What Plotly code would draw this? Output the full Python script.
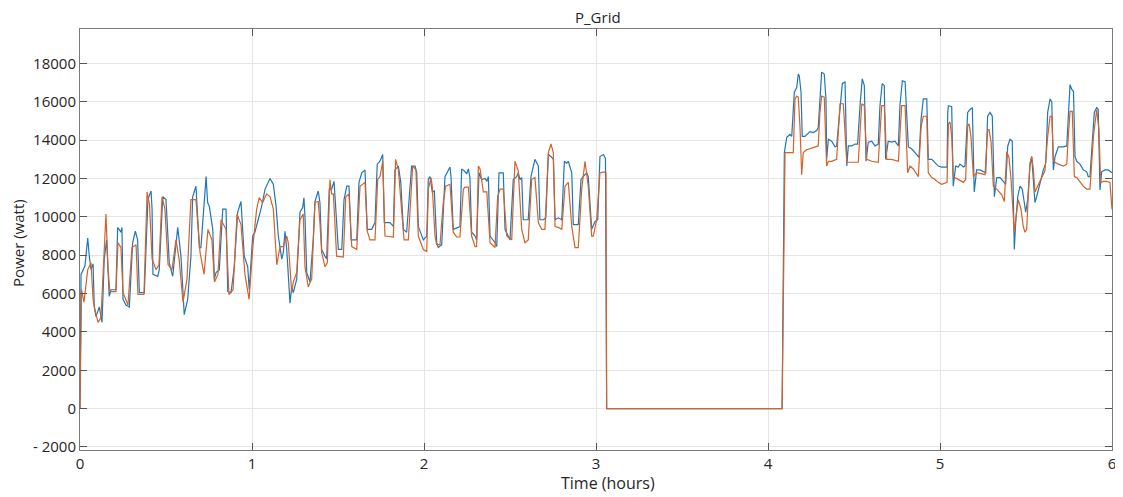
import plotly.graph_objects as go

# ---------------- data ----------------
blue_t = [
    0, 0.006, 0.029, 0.045, 0.054, 0.064, 0.076, 0.083, 0.093, 0.112,
    0.128, 0.141, 0.155, 0.170, 0.180, 0.209, 0.219, 0.238, 0.244, 0.250,
    0.267, 0.287, 0.306, 0.322, 0.335, 0.345, 0.374, 0.395, 0.413, 0.419,
    0.424, 0.452, 0.461, 0.481, 0.500, 0.519, 0.539, 0.548, 0.568, 0.587,
    0.606, 0.626, 0.645, 0.655, 0.674, 0.694, 0.703, 0.733, 0.742, 0.752,
    0.772, 0.781, 0.791, 0.810, 0.830, 0.849, 0.859, 0.878, 0.897, 0.917,
    0.936, 0.955, 0.975, 0.984, 1.004,
    1.017, 1.037, 1.056, 1.076, 1.105, 1.124, 1.140, 1.153, 1.173, 1.182,
    1.192, 1.202, 1.211, 1.221, 1.231, 1.240, 1.260, 1.279, 1.295, 1.302,
    1.308, 1.318, 1.337, 1.356, 1.366, 1.385, 1.395, 1.405, 1.424, 1.434,
    1.449, 1.463, 1.477, 1.488, 1.502, 1.522, 1.535, 1.551, 1.564, 1.576,
    1.589, 1.609, 1.622, 1.638, 1.657, 1.670, 1.696, 1.715, 1.728, 1.744,
    1.760, 1.769, 1.802, 1.822, 1.831, 1.851, 1.865, 1.880, 1.899, 1.928,
    1.948, 1.958, 1.967, 1.996, 2.016,
    2.025, 2.035, 2.048, 2.060, 2.074, 2.083, 2.103, 2.122, 2.141, 2.151,
    2.157, 2.170, 2.199, 2.209, 2.219, 2.234, 2.248, 2.258, 2.267, 2.277,
    2.297, 2.306, 2.320, 2.335, 2.355, 2.365, 2.374, 2.384, 2.413, 2.423,
    2.436, 2.461, 2.471, 2.500, 2.519, 2.539, 2.548, 2.558, 2.568, 2.577,
    2.606, 2.622, 2.645, 2.665, 2.674, 2.694, 2.708, 2.723, 2.738, 2.752,
    2.762, 2.781, 2.801, 2.816, 2.830, 2.839, 2.859, 2.868, 2.897, 2.913,
    2.926, 2.946, 2.955, 2.975, 2.994, 3.010, 3.023, 3.043, 3.055, 3.062,
    4.080, 4.082,
    4.095, 4.109, 4.128, 4.138, 4.153, 4.167, 4.176, 4.182, 4.192, 4.199,
    4.215, 4.234, 4.244, 4.263, 4.283, 4.292, 4.302, 4.312, 4.327, 4.337,
    4.341, 4.351, 4.370, 4.390, 4.399, 4.419, 4.432, 4.448, 4.458, 4.467,
    4.487, 4.506, 4.521, 4.535, 4.548, 4.560, 4.570, 4.583, 4.603, 4.622,
    4.641, 4.651, 4.664, 4.676, 4.684, 4.699, 4.719, 4.738, 4.758, 4.767,
    4.781, 4.797, 4.806, 4.816, 4.835, 4.864, 4.878, 4.890, 4.903, 4.923,
    4.932, 4.952, 4.971, 4.990, 5.010, 5.029,
    5.041, 5.045, 5.049, 5.068, 5.077, 5.091, 5.106, 5.116, 5.136, 5.145,
    5.161, 5.174, 5.188, 5.199, 5.213, 5.233, 5.252, 5.266, 5.277, 5.291,
    5.304, 5.316, 5.330, 5.349, 5.368, 5.382, 5.394, 5.407, 5.420, 5.428,
    5.432, 5.440, 5.452, 5.465, 5.478, 5.490, 5.498, 5.510, 5.523, 5.533,
    5.545, 5.552, 5.562, 5.581, 5.601, 5.615, 5.626, 5.640, 5.650, 5.659,
    5.669, 5.688, 5.717, 5.737, 5.746, 5.756, 5.766, 5.776, 5.785, 5.795,
    5.814, 5.833, 5.853, 5.862, 5.872, 5.882, 5.897, 5.911, 5.920, 5.930,
    5.940, 5.959, 5.978, 6.000,
]
blue_w = [
    0, 7000, 7450, 8900, 7950, 7250, 7550, 5300, 4800, 5300,
    4500, 7800, 8800, 5850, 6200, 6200, 9450, 9200, 9450, 5700,
    5400, 5300, 8650, 9250, 8800, 6050, 6050, 10900, 11350, 10400,
    7000, 6900, 7250, 11050, 10900, 7600, 6900, 7800, 9450, 7950,
    4900, 5700, 7950, 11050, 11600, 8400, 8400, 12100, 10750, 10550,
    9350, 6750, 7100, 7250, 10400, 10400, 6100, 6050, 7400, 10250,
    10800, 7950, 7400, 6200, 9000,
    9200, 9850, 10550, 11450, 12000, 11700, 10550, 9000, 7800, 8150,
    9250, 8300, 6900, 5500, 6350, 6050, 6750, 10250, 10500, 11000,
    10000, 7100, 6600, 8800, 10800, 11350, 10750, 8300, 7950, 7800,
    11450, 11450, 11850, 10000, 8300, 8300, 10900, 11600, 11600, 8800,
    8800, 8800, 11800, 12300, 12450, 9350, 9350, 9700, 12750, 12900,
    13250, 9700, 9700, 9500, 12450, 12650, 11800, 9350, 9200, 12650,
    12650, 12300, 9500, 8800, 9000,
    11950, 12100, 11300, 11350, 8650, 8400, 8550, 12100, 12400, 12600,
    12100, 9350, 9450, 9500, 12500, 12400, 12250, 12500, 12050, 9200,
    9000, 8800, 12300, 11950, 12000, 11850, 12100, 9000, 8650, 8450,
    12300, 12300, 9350, 8800, 11950, 12100, 12300, 11950, 12050, 9850,
    9850, 12100, 13000, 12650, 9850, 9850, 9950, 13250, 13150, 13000,
    9850, 9950, 9850, 12900, 12800, 12900, 12300, 9600, 9600, 11950,
    12100, 12300, 12100, 9350, 9750, 9850, 13150, 13250, 13050, 0,
    0, 0,
    13350, 14150, 14300, 14200, 16500, 16750, 17450, 17350, 16500, 14200,
    14200, 14400, 14450, 14400, 14500, 14650, 16500, 17550, 17450, 16150,
    13000, 14050, 13950, 13650, 13700, 15800, 16950, 17050, 12650, 13700,
    13700, 13800, 13800, 15800, 17200, 16850, 12900, 13900, 13950, 13700,
    13800, 15800, 16950, 16850, 13000, 13950, 13900, 13950, 13700, 15800,
    17100, 17050, 15100, 13650, 13550, 13250, 13100, 15100, 16150, 16150,
    13000, 13000, 12800, 12650, 12600, 12600,
    12600, 15450, 15800, 15750, 11600, 12650, 12600, 12750, 12600, 12650,
    15450, 15600, 15700, 11300, 12450, 12450, 12350, 12300, 15250, 15450,
    15250, 11050, 12050, 12050, 11850, 11700, 13700, 14050, 13950, 9850,
    8300, 9700, 11050, 11600, 11450, 10750, 10250, 10900, 12650, 13150,
    11600, 10750, 11050, 11800, 12450, 12800, 15450, 16150, 16000, 12450,
    13150, 13650, 13650, 13700, 15600, 16900, 16650, 16550, 13150, 12900,
    12750, 12450, 12350, 12100, 12100, 13350, 15450, 15700, 15600, 11400,
    12350, 12450, 12450, 12300,
]

orange_t = [
    0, 0.009, 0.023, 0.045, 0.064, 0.076, 0.087, 0.105, 0.122, 0.141,
    0.151, 0.163, 0.174, 0.209, 0.221, 0.238, 0.250, 0.279, 0.302, 0.326,
    0.337, 0.372, 0.390, 0.404, 0.419, 0.442, 0.459, 0.477, 0.494, 0.512,
    0.535, 0.558, 0.576, 0.599, 0.622, 0.645, 0.674, 0.698, 0.721, 0.744,
    0.767, 0.782, 0.802, 0.820, 0.849, 0.866, 0.890, 0.913, 0.936, 0.959,
    0.983, 1.006,
    1.027, 1.042, 1.062, 1.085, 1.105, 1.124, 1.134, 1.144, 1.163, 1.182,
    1.202, 1.211, 1.231, 1.240, 1.260, 1.279, 1.298, 1.308, 1.327, 1.347,
    1.366, 1.385, 1.395, 1.405, 1.424, 1.438, 1.453, 1.463, 1.473, 1.492,
    1.531, 1.545, 1.564, 1.580, 1.609, 1.628, 1.657, 1.670, 1.686, 1.715,
    1.731, 1.744, 1.760, 1.773, 1.822, 1.835, 1.851, 1.870, 1.884, 1.909,
    1.934, 1.953, 1.967, 1.996, 2.016,
    2.025, 2.041, 2.048, 2.064, 2.074, 2.093, 2.112, 2.126, 2.151, 2.170,
    2.190, 2.209, 2.229, 2.238, 2.258, 2.277, 2.297, 2.306, 2.316, 2.326,
    2.345, 2.365, 2.384, 2.413, 2.428, 2.442, 2.461, 2.481, 2.510, 2.529,
    2.548, 2.568, 2.587, 2.606, 2.626, 2.645, 2.665, 2.684, 2.703, 2.723,
    2.738, 2.752, 2.762, 2.781, 2.801, 2.820, 2.839, 2.859, 2.878, 2.897,
    2.917, 2.936, 2.955, 2.975, 2.984, 3.004, 3.023, 3.052, 3.058, 3.062,
    4.080, 4.082,
    4.099, 4.128, 4.147, 4.157, 4.167, 4.176, 4.186, 4.196, 4.205, 4.225,
    4.254, 4.292, 4.302, 4.312, 4.327, 4.341, 4.351, 4.370, 4.399, 4.419,
    4.438, 4.458, 4.487, 4.525, 4.545, 4.560, 4.574, 4.603, 4.641, 4.661,
    4.676, 4.690, 4.719, 4.758, 4.777, 4.797, 4.812, 4.826, 4.845, 4.874,
    4.890, 4.903, 4.923, 4.932, 4.952, 4.971, 4.990, 5.010, 5.041, 5.049,
    5.058, 5.068, 5.077, 5.087, 5.106, 5.136, 5.149, 5.161, 5.169, 5.180,
    5.194, 5.213, 5.262, 5.277, 5.285, 5.297, 5.310, 5.330, 5.359, 5.374,
    5.388, 5.401, 5.413, 5.426, 5.432, 5.440, 5.455, 5.471, 5.484, 5.494,
    5.504, 5.513, 5.523, 5.533, 5.543, 5.552, 5.572, 5.591, 5.610, 5.626,
    5.640, 5.650, 5.659, 5.669, 5.688, 5.717, 5.737, 5.746, 5.756, 5.769,
    5.781, 5.795, 5.814, 5.833, 5.853, 5.872, 5.892, 5.911, 5.924, 5.934,
    5.950, 5.969, 5.988, 6.000,
]
orange_w = [
    0, 6200, 5550, 7250, 7600, 5700, 5150, 4500, 4750, 8300,
    10150, 7250, 6100, 6100, 8650, 8400, 6050, 5400, 8400, 8550,
    5950, 5950, 11300, 10650, 7800, 7250, 7500, 11050, 10400, 7500,
    7250, 8800, 7800, 5550, 6750, 10900, 10900, 8150, 7000, 9350,
    8800, 6600, 7000, 9850, 9350, 5950, 6200, 10150, 9600, 7000,
    5700, 8550,
    10400, 11000, 10750, 11200, 11050, 10400, 8800, 7500, 8450, 8450,
    9000, 8650, 6050, 6600, 7100, 9850, 10150, 7400, 6350, 6750,
    10750, 10800, 9700, 8150, 7400, 7600, 11950, 11200, 11200, 7950,
    7900, 11050, 11200, 8450, 8300, 11600, 11800, 9250, 8800, 8800,
    11950, 12100, 12900, 9000, 8950, 13000, 12450, 10550, 8800, 8800,
    12650, 12450, 9000, 8300, 8200,
    11450, 12050, 11600, 9000, 8550, 8550, 10750, 11600, 11700, 9200,
    8950, 8950, 11450, 11550, 11550, 9000, 8450, 8450, 12650, 12500,
    11300, 11300, 8650, 8400, 11050, 11450, 11450, 9000, 8800, 12900,
    12400, 9350, 8650, 8800, 11950, 12050, 9700, 9350, 9350, 13350,
    13800, 13350, 9500, 9450, 9350, 11600, 11800, 9500, 8400, 8400,
    11450, 12900, 11600, 9000, 9000, 9850, 12300, 12350, 12300, 0,
    0, 0,
    13350, 13350, 13350, 16150, 16300, 16250, 14700, 12200, 13350, 13500,
    13600, 13700, 15450, 16300, 16250, 12650, 12900, 12900, 13000, 15900,
    15900, 12850, 12850, 12850, 15900, 15800, 13000, 12900, 12850, 15800,
    15800, 13000, 13000, 12900, 15800, 15800, 12300, 12650, 12500, 12100,
    14700, 15250, 15250, 12300, 12050, 11950, 11800, 11700, 11800, 14850,
    14950, 14200, 12100, 12050, 11950, 11800, 11950, 14750, 14850, 14200,
    12100, 12300, 12200, 14550, 14550, 13900, 11600, 11450, 11150, 10800,
    13400, 13100, 11950, 10250, 9200, 9850, 10900, 10400, 9500, 9200,
    9350, 11050, 12800, 13150, 12450, 11300, 11700, 12100, 12400, 14200,
    15250, 15250, 13000, 12850, 12750, 12650, 12750, 14200, 15500, 15500,
    12100, 12050, 11800, 11600, 11450, 11450, 14200, 15600, 14550, 11800,
    11850, 11850, 11800, 10400,
]

x_ticks = [0, 1, 2, 3, 4, 5, 6]
y_ticks = [-2000, 0, 2000, 4000, 6000, 8000, 10000, 12000, 14000, 16000, 18000]
y_tick_text = ["- 2000", "0", "2000", "4000", "6000", "8000", "10000",
               "12000", "14000", "16000", "18000"]

FONT = "Open Sans"
TXT = "#262626"

# ---------------- figure ----------------
fig = go.Figure()
fig.add_trace(go.Scatter(x=blue_t, y=blue_w, mode="lines",
                         line=dict(color="#1f77b8", width=1.2), showlegend=False))
fig.add_trace(go.Scatter(x=orange_t, y=orange_w, mode="lines",
                         line=dict(color="#d4622a", width=1.2), showlegend=False))

axis_common = dict(
    showline=True, linecolor="#7a7a7a", linewidth=1, mirror="allticks",
    ticks="inside", ticklen=7, tickcolor="#555555", tickwidth=1,
    showgrid=True, gridcolor="#e6e6e6", gridwidth=1, zeroline=False,
    automargin=False,
    tickfont=dict(family=FONT, size=15, color=TXT),
)

# the page body adds an 8px offset, so the figure is sized to end at the window edge
fig.update_layout(
    width=1115, height=489,
    margin=dict(l=72, r=11, t=21, b=47),
    paper_bgcolor="white", plot_bgcolor="white",
    xaxis=dict(range=[0, 6], tickvals=x_ticks, **axis_common),
    yaxis=dict(range=[-2160, 19800], tickvals=y_ticks, ticktext=y_tick_text,
               **axis_common),
    annotations=[
        dict(text="P_Grid", xref="paper", yref="paper", x=0.502, y=1.0285,
             xanchor="center", yanchor="middle", showarrow=False,
             font=dict(family=FONT, size=15, color=TXT)),
        dict(text="Time (hours)", xref="paper", yref="paper", x=0.512, y=-0.0784,
             xanchor="center", yanchor="middle", showarrow=False,
             font=dict(family=FONT, size=16, color=TXT)),
        dict(text="Power (watt)", xref="paper", yref="paper", x=-0.060, y=0.492,
             xanchor="center", yanchor="middle", showarrow=False, textangle=-90,
             font=dict(family=FONT, size=15, color=TXT)),
    ],
)

fig.write_html("out.html")
